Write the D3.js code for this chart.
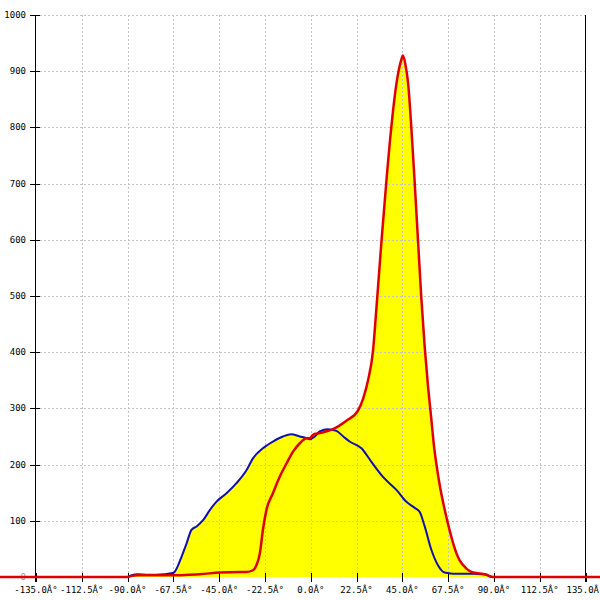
<!DOCTYPE html>
<html>
<head>
<meta charset="utf-8">
<script src="https://cdn.jsdelivr.net/npm/d3@7"></script>
<style>
  body { margin: 0; background: #fff; }
  text { font-family: "DejaVu Sans Mono", monospace; font-size: 9px; }
</style>
</head>
<body>
<svg width="600" height="600"></svg>
<script>
// x ticks in degrees, y ticks in counts
var xTicks = [-135, -112.5, -90, -67.5, -45, -22.5, 0, 22.5, 45, 67.5, 90, 112.5, 135];
var yTicks = [0, 100, 200, 300, 400, 500, 600, 700, 800, 900, 1000];

// blue series (angle, value)
var blueAngle = [-90, -88, -85, -80, -72, -67.6, -65.5, -63.5, -61, -58.6, -56.1, -52.9, -49.6, -46.3, -41.4, -36.5,
  -31.6, -28.4, -23.5, -18.6, -13.7, -9.6, -5.4, -2.1, -0.5, 2, 4.4, 8.5, 12.6, 16, 19.1, 24.9, 29.8, 35.5,
  42.1, 47, 51.1, 53.5, 56, 59.3, 62.5, 65.8, 69.9, 79.7, 84.6, 86.5, 88.7, 91];
var blueValue = [0, 3, 5, 4, 5, 7, 18, 36, 60, 84, 90, 101, 119, 134, 149, 167,
  190, 211, 229, 241, 250, 254, 250, 247, 245, 250, 259, 263, 260, 250, 241, 229, 205, 178,
  155, 134, 123, 116, 90, 48, 21, 8, 6, 6, 5, 4, 0, 0];

// red series (angle, value)
var redAngle = [-160, -92, -90, -88, -85, -75, -67.5, -60, -54.5, -44.7, -34.9, -31.6, -28.4, -26.7, -25, -23.5,
  -21.8, -18.6, -15.3, -11.9, -8.7, -5.4, -2.1, -0.5, 1.1, 4.4, 10.9, 17.5, 23.2, 25.7, 28.1, 30.6, 32.2,
  34.7, 37.2, 39.6, 42.1, 44.3, 45.3, 46.5, 47.8, 49.4, 51.1, 52.7, 54.3, 56, 57.6, 59, 60.5,
  63.3, 65.8, 68.3, 71.6, 73.1, 76.5, 79.7, 83.8, 86.3, 88.5, 90.3, 150];
var redValue = [0, 0, 0, 2, 3, 3, 3, 4, 5, 8, 9, 9, 12, 21, 42, 84,
  119, 149, 178, 202, 223, 238, 247, 247, 253, 256, 263, 278, 296, 317, 349, 403, 475,
  595, 706, 801, 878, 918, 928, 912, 880, 801, 700, 599, 498, 409, 340, 290, 235,
  165, 120, 82, 42, 30, 15, 8, 6, 4, 1, 0, 0];

var blue = blueAngle.map(function(a, i) { return {a: a, v: blueValue[i]}; });
var red = redAngle.map(function(a, i) { return {a: a, v: redValue[i]}; });

var svg = d3.select("svg");

var x = d3.scaleLinear().domain([-135, 135]).range([36, 585.5]);
var y = d3.scaleLinear().domain([0, 1000]).range([577, 15]);

var area = d3.area()
  .curve(d3.curveMonotoneX)
  .x(function(d) { return x(d.a); })
  .y0(y(0))
  .y1(function(d) { return y(d.v); });

var line = d3.line()
  .curve(d3.curveMonotoneX)
  .x(function(d) { return x(d.a); })
  .y(function(d) { return y(d.v); });

// yellow fill under both curves
svg.append("path").datum(blue).attr("d", area).attr("fill", "#ffff00");
svg.append("path").datum(red).attr("d", area).attr("fill", "#ffff00");

// grid
var grid = svg.append("g").attr("stroke", "#c4c4c4").attr("stroke-dasharray", "2,2").attr("stroke-width", 1);
grid.selectAll(".hg").data(yTicks.slice(1)).enter().append("line")
  .attr("x1", x(-135)).attr("x2", x(135))
  .attr("y1", function(d) { return Math.round(y(d)) + 0.5; })
  .attr("y2", function(d) { return Math.round(y(d)) + 0.5; });
grid.selectAll(".vg").data(xTicks.slice(1, -1)).enter().append("line")
  .attr("y1", y(1000)).attr("y2", y(0))
  .attr("x1", function(d) { return Math.round(x(d)) + 0.5; })
  .attr("x2", function(d) { return Math.round(x(d)) + 0.5; });

// axes
var ax = svg.append("g").attr("stroke", "#000").attr("stroke-width", 1);
ax.append("line").attr("x1", 35.5).attr("x2", 35.5).attr("y1", y(1000)).attr("y2", y(0) + 5);
ax.append("line").attr("x1", 585.5).attr("x2", 585.5).attr("y1", y(1000)).attr("y2", y(0) + 5);
ax.selectAll(".yt").data(yTicks).enter().append("line")
  .attr("x1", 30).attr("x2", 40)
  .attr("y1", function(d) { return Math.round(y(d)) + 0.5; })
  .attr("y2", function(d) { return Math.round(y(d)) + 0.5; });
ax.selectAll(".xt").data(xTicks).enter().append("line")
  .attr("y1", y(0) - 4).attr("y2", y(0) + 5)
  .attr("x1", function(d) { return Math.round(x(d)) + 0.5; })
  .attr("x2", function(d) { return Math.round(x(d)) + 0.5; });

// labels
svg.selectAll(".yl").data(yTicks).enter().append("text")
  .attr("x", 26).attr("y", function(d) { return y(d) + 3; })
  .attr("text-anchor", "end")
  .attr("fill", function(d) { return d === 0 ? "#999" : "#000"; })
  .text(function(d) { return d; });
svg.selectAll(".xl").data(xTicks).enter().append("text")
  .attr("x", function(d) { return x(d); }).attr("y", 593)
  .attr("text-anchor", "middle")
  .attr("fill", "#000")
  .text(function(d) { return d.toFixed(1) + "\u00C2\u00B0"; });

// lines
svg.append("path").datum(blue).attr("d", line)
  .attr("fill", "none").attr("stroke", "#1010b0").attr("stroke-width", 2);
svg.append("path").datum(red).attr("d", line)
  .attr("fill", "none").attr("stroke", "#e00000").attr("stroke-width", 2.5);
</script>
</body>
</html>
